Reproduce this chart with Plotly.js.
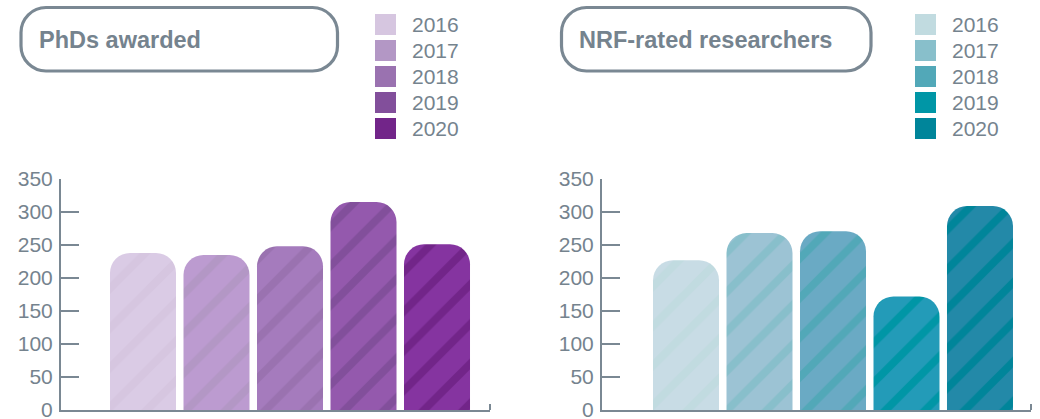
<!DOCTYPE html>
<html><head><meta charset="utf-8">
<script src="https://cdn.plot.ly/plotly-3.0.1.min.js"></script>
<style>html,body{margin:0;padding:0;background:#fff}#chart{width:1040px;height:419px}</style>
</head><body><div id="chart"></div>
<script>
const years = ['2016','2017','2018','2019','2020'];
const phdValues = [238, 235, 248, 315, 251];
const nrfValues = [227, 268, 271, 172, 309];
const yTickVals = [0, 50, 100, 150, 200, 250, 300, 350];
const phdLegendColors = ['#d6c6e0','#b397c5','#9a72b0','#824f9b','#722589'];
const phdBarColors = ['#dacbe5','#bc9bd0','#a57bbd','#9459ad','#8534a0'];
const nrfLegendColors = ['#c1dbe0','#88bfcb','#52a8b8','#0096a6','#00859a'];
const nrfBarColors = ['#c8dce5','#9cc3d4','#6aaac4','#239bb8','#2389a8'];
const chartTitles = ['PhDs awarded', 'NRF-rated researchers'];

const W = 1040, H = 419;
const GREY = '#7a8893';
const TEXT = '#75838e';
const FONT = 'Liberation Sans, Arial, sans-serif';
const px = x => x / W;
const py = y => 1 - y / H;

function roundRect(x0, y0, x1, y1, r) {
  const k = 0.5523 * r;
  const P = (x, y) => px(x) + ',' + py(y);
  return 'M' + P(x0 + r, y0) +
    ' L' + P(x1 - r, y0) +
    ' C' + P(x1 - r + k, y0) + ' ' + P(x1, y0 + r - k) + ' ' + P(x1, y0 + r) +
    ' L' + P(x1, y1 - r) +
    ' C' + P(x1, y1 - r + k) + ' ' + P(x1 - r + k, y1) + ' ' + P(x1 - r, y1) +
    ' L' + P(x0 + r, y1) +
    ' C' + P(x0 + r - k, y1) + ' ' + P(x0, y1 - r + k) + ' ' + P(x0, y1 - r) +
    ' L' + P(x0, y0 + r) +
    ' C' + P(x0, y0 + r - k) + ' ' + P(x0 + r - k, y0) + ' ' + P(x0 + r, y0) + ' Z';
}

const data = [];
function addBars(values, barColors, stripeColors, xa, ya) {
  years.forEach((yr, i) => {
    data.push({
      type: 'bar', x: [i], y: [values[i]], xaxis: xa, yaxis: ya,
      width: 0.898, name: yr,
      hovertemplate: yr + ': %{y}<extra></extra>',
      showlegend: false,
      marker: {
        color: barColors[i],
        line: {width: 0},
        cornerradius: 20,
        pattern: {shape: '/', fgcolor: stripeColors[i], bgcolor: barColors[i], fgopacity: 1, size: 28, solidity: 0.28, fillmode: 'overlay'}
      }
    });
  });
}
addBars(phdValues, phdBarColors, phdLegendColors, 'x', 'y');
addBars(nrfValues, nrfBarColors, nrfLegendColors, 'x2', 'y2');

const yDomain = [py(410), py(179)];
function yAxis(anchor) {
  return {
    domain: yDomain, range: [0, 350], anchor: anchor,
    tickvals: yTickVals, ticktext: yTickVals.map(String),
    ticks: 'inside', ticklen: 18, tickwidth: 2, tickcolor: GREY,
    showline: true, linecolor: GREY, linewidth: 2,
    showgrid: false, zeroline: false,
    tickfont: {family: FONT, size: 21, color: TEXT},
    ticklabelstandoff: 2,
    ticklabeloverflow: 'allow',
    fixedrange: true
  };
}
function xAxis(dom, range, anchor) {
  return {
    domain: dom, range: range, anchor: anchor,
    showticklabels: false, ticks: '', showgrid: false, zeroline: false,
    showline: true, linecolor: GREY, linewidth: 2, fixedrange: true
  };
}

const shapes = [];
const annotations = [];

// title boxes
const boxes = [[21, 7.5, 337.5, 71, 37], [561.5, 7.5, 871, 71, 577]];
boxes.forEach((b, i) => {
  shapes.push({type: 'path', xref: 'paper', yref: 'paper', path: roundRect(b[0], b[1], b[2], b[3], 25),
    line: {color: GREY, width: 3.2}, fillcolor: 'rgba(0,0,0,0)'});
  annotations.push({xref: 'paper', yref: 'paper', x: px(b[4]), y: py(40), xanchor: 'left', yanchor: 'middle',
    text: '<b>' + chartTitles[i] + '</b>', showarrow: false, font: {family: FONT, size: 23.5, color: TEXT}});
});

// legends
const legendSets = [[375, 410, phdLegendColors], [915, 950, nrfLegendColors]];
legendSets.forEach(ls => {
  years.forEach((yr, i) => {
    const top = 14 + i * 26;
    shapes.push({type: 'rect', xref: 'paper', yref: 'paper',
      x0: px(ls[0]), x1: px(ls[0] + 21), y0: py(top + 21), y1: py(top),
      fillcolor: ls[2][i], line: {width: 0}});
    annotations.push({xref: 'paper', yref: 'paper', x: px(ls[1]), y: py(top + 10.5), xanchor: 'left', yanchor: 'middle',
      text: yr, showarrow: false, font: {family: FONT, size: 21, color: TEXT}});
  });
});

// small end ticks on x axes
[490, 1031].forEach(x => {
  shapes.push({type: 'line', xref: 'paper', yref: 'paper', x0: px(x), x1: px(x), y0: py(410), y1: py(404),
    line: {color: GREY, width: 2}});
});

const layout = {
  width: W, height: H,
  margin: {l: 0, r: 0, t: 0, b: 0},
  paper_bgcolor: '#ffffff', plot_bgcolor: '#ffffff',
  showlegend: false,
  barmode: 'overlay',
  xaxis: xAxis([px(61), px(490)], [-1.1156, 4.721], 'y'),
  yaxis: yAxis('x'),
  xaxis2: xAxis([px(602), px(1031)], [-1.143, 4.694], 'y2'),
  yaxis2: yAxis('x2'),
  shapes: shapes,
  annotations: annotations,
  font: {family: FONT}
};

Plotly.newPlot('chart', data, layout, {displayModeBar: false});
</script></body></html>
